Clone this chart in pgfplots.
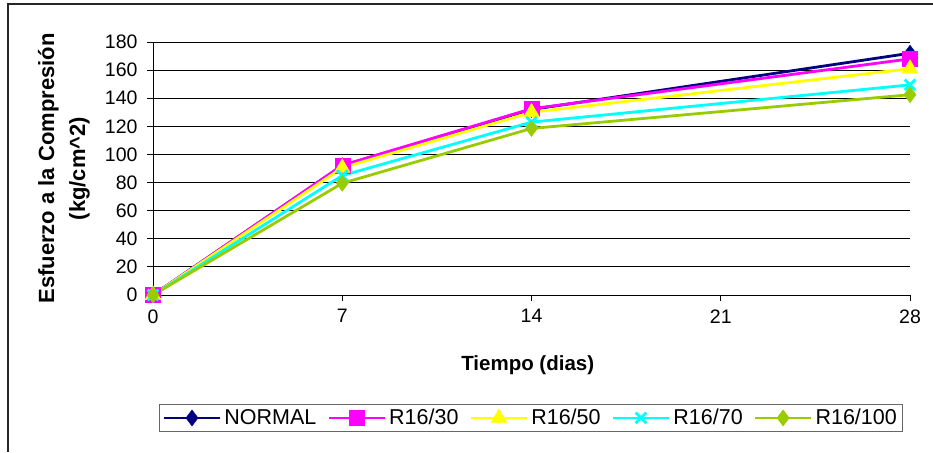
\documentclass[border=0pt]{standalone}
\usepackage{fontspec}
\setmainfont{Liberation Sans}
\usepackage{pgfplots}
\pgfplotsset{compat=1.18}
\definecolor{cnormal}{RGB}{0,0,128}
\definecolor{cmag}{RGB}{255,0,255}
\definecolor{cyel}{RGB}{255,255,0}
\definecolor{ccyan}{RGB}{0,255,255}
\definecolor{cgreen}{RGB}{153,204,0}
\begin{document}
\begin{tikzpicture}[x=1pt,y=1pt]
\useasboundingbox (0,0) rectangle (933,452);
\draw[line width=1.3pt, black!85] (8,0) -- (8,448) -- (933,448);
\begin{axis}[
  at={(153pt,157pt)}, anchor=south west,
  width=757pt, height=253pt, scale only axis,
  xmin=0, xmax=28, ymin=0, ymax=180,
  xtick={0,7,14,21,28}, ytick={0,20,...,180},
  axis lines*=left,
  axis line style={black, line width=0.9pt},
  tick align=outside, major tick length=6pt,
  tick style={black, line width=0.9pt},
  ymajorgrids, grid style={black, line width=0.9pt},
  clip=false,
  /pgf/number format/assume math mode=true,
  tick label style={font=\fontsize{19.5}{21}\selectfont},
  xticklabel style={yshift=-5pt},
  yticklabel style={xshift=-6pt},
  xlabel={\textbf{Tiempo (dias)}},
  xlabel style={font=\fontsize{20.5}{22}\selectfont, at={(axis description cs:0.495,-0.277)}, anchor=center},
  ylabel={\textbf{Esfuerzo a la Compresión}\\\textbf{(kg/cm\^{}2)}},
  ylabel style={font=\fontsize{22}{31}\selectfont, align=center, at={(axis description cs:-0.1176,0.5)}, anchor=center},
  legend columns=5,
  legend style={at={(axis description cs:0.4996,-0.486)}, anchor=center,
    draw=black!60, line width=1.2pt, font=\fontsize{21.5}{23}\selectfont,
    inner xsep=3pt, inner ysep=3pt,
    nodes={inner xsep=3pt, inner ysep=2pt},
    /tikz/every even column/.append style={column sep=8pt}},
  legend image code/.code={\draw[mark repeat=2,mark phase=2,#1] plot coordinates {(0pt,0pt) (28pt,0pt) (56pt,0pt)};},
  every axis plot/.append style={line width=2.8pt},
]
\addplot[cnormal, mark=diamond*, mark size=8pt, mark options={solid, fill=cnormal, line width=0.5pt}] coordinates {(0,0) (7,92) (14,132) (28,172)};
\addlegendentry{NORMAL}
\addplot[cmag, mark=square*, mark size=7.5pt, mark options={solid, fill=cmag, line width=0.5pt}] coordinates {(0,0) (7,92.3) (14,132.5) (28,168)};
\addlegendentry{R16/30}
\addplot[cyel, mark=triangle*, mark size=9pt, mark options={solid, fill=cyel, line width=0.5pt}] coordinates {(0,0) (7,90.5) (14,130) (28,161)};
\addlegendentry{R16/50}
\addplot[ccyan, mark=x, mark size=7.5pt, mark options={solid, line width=2.8pt}] coordinates {(0,0) (7,85) (14,123) (28,149.5)};
\addlegendentry{R16/70}
\addplot[cgreen, mark=diamond*, mark size=8pt, mark options={solid, fill=cgreen, line width=0.5pt}] coordinates {(0,0) (7,79.5) (14,118.5) (28,142.5)};
\addlegendentry{R16/100}
\end{axis}
\end{tikzpicture}
\end{document}
